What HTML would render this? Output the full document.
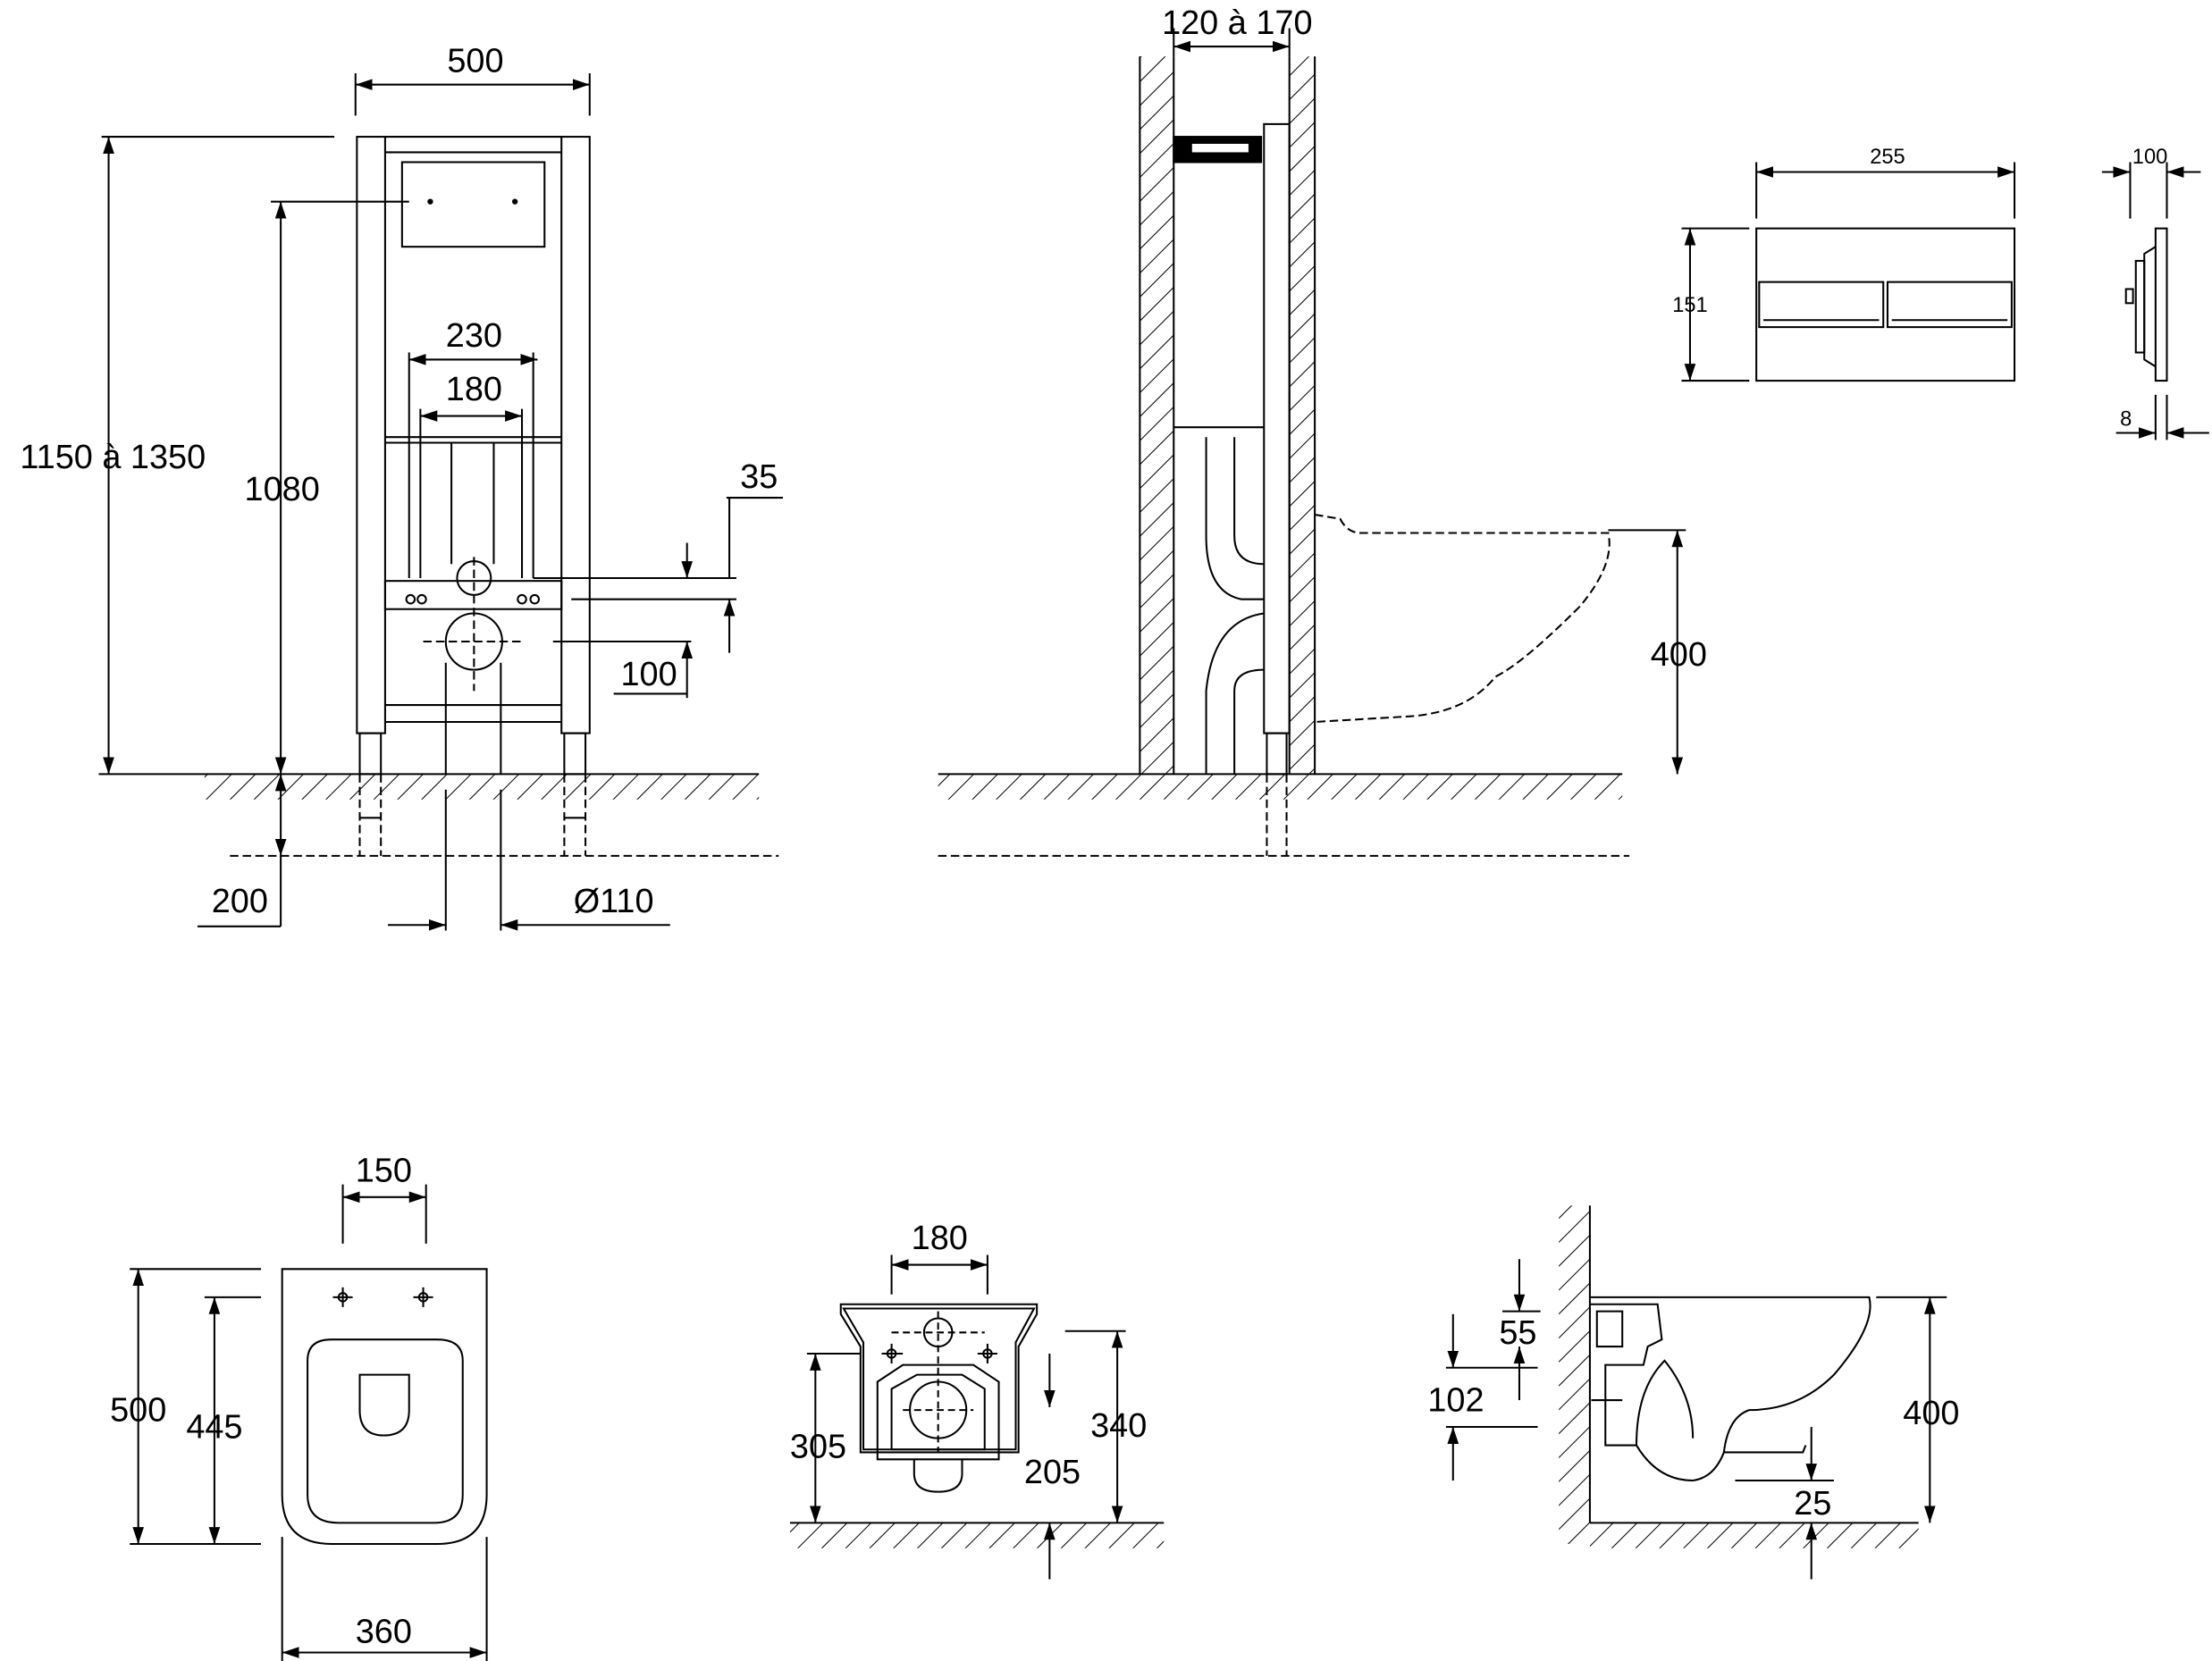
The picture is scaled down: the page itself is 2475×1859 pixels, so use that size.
<!DOCTYPE html>
<html><head><style>html,body{margin:0;padding:0;background:#fff}svg{display:block}</style></head><body>
<svg width="2475" height="1859" viewBox="0 0 1568 1178" preserveAspectRatio="none" xmlns="http://www.w3.org/2000/svg" font-family="Liberation Sans, Arial, sans-serif">
<defs>
<pattern id="h" width="12" height="12" patternUnits="userSpaceOnUse" patternTransform="rotate(45)">
<line x1="0" y1="0" x2="0" y2="12" stroke="#000" stroke-width="1.3"/></pattern>
<marker id="a" markerWidth="12" markerHeight="8" refX="12" refY="4" orient="auto-start-reverse" markerUnits="userSpaceOnUse"><path d="M0,0 L12,4 L0,8 z" fill="#000"/></marker>
</defs>
<g stroke="#000" stroke-width="1.3" fill="none">
<!-- TOP LEFT frame -->
<line x1="252" y1="52" x2="252" y2="82"/><line x1="418" y1="52" x2="418" y2="82"/>
<line x1="252" y1="60" x2="418" y2="60" marker-start="url(#a)" marker-end="url(#a)"/>
<rect x="253" y="97" width="20" height="423"/><rect x="398" y="97" width="20" height="423"/>
<line x1="273" y1="97" x2="398" y2="97"/><line x1="273" y1="108" x2="398" y2="108"/>
<rect x="285" y="115" width="101" height="60"/>
<line x1="273" y1="310" x2="398" y2="310"/><line x1="273" y1="314" x2="398" y2="314"/>
<rect x="273" y="412" width="125" height="20"/>
<line x1="273" y1="500" x2="398" y2="500"/><line x1="273" y1="512" x2="398" y2="512"/>
<line x1="290" y1="250" x2="290" y2="410"/><line x1="298" y1="290" x2="298" y2="410"/>
<line x1="370" y1="290" x2="370" y2="410"/><line x1="378" y1="250" x2="378" y2="410"/>
<line x1="320" y1="314" x2="320" y2="400"/><line x1="350" y1="314" x2="350" y2="400"/>
<circle cx="336" cy="410" r="12"/><circle cx="336" cy="455" r="20"/>
<line x1="316" y1="470" x2="316" y2="549"/><line x1="355" y1="470" x2="355" y2="549"/>
<line x1="300" y1="455" x2="372" y2="455" stroke-dasharray="6,3"/><line x1="336" y1="395" x2="336" y2="490" stroke-dasharray="6,3"/>
<circle cx="291" cy="425" r="3"/><circle cx="299" cy="425" r="3"/><circle cx="370" cy="425" r="3"/><circle cx="379" cy="425" r="3"/>
<rect x="255" y="520" width="15" height="29"/><rect x="400" y="520" width="15" height="29"/>
<g stroke-dasharray="6,3"><line x1="255" y1="549" x2="255" y2="607"/><line x1="270" y1="549" x2="270" y2="607"/><line x1="400" y1="549" x2="400" y2="607"/><line x1="415" y1="549" x2="415" y2="607"/>
<line x1="163" y1="607" x2="552" y2="607"/></g>
<line x1="316" y1="560" x2="316" y2="660"/><line x1="355" y1="560" x2="355" y2="660"/>
<line x1="255" y1="580" x2="270" y2="580"/><line x1="400" y1="580" x2="415" y2="580"/>
<line x1="290" y1="255" x2="381" y2="255" marker-start="url(#a)" marker-end="url(#a)"/>
<line x1="298" y1="295" x2="370" y2="295" marker-start="url(#a)" marker-end="url(#a)"/>
<line x1="72" y1="97" x2="237" y2="97"/><line x1="77" y1="97" x2="77" y2="549" marker-start="url(#a)" marker-end="url(#a)"/>
<line x1="192" y1="143" x2="290" y2="143"/><line x1="199" y1="143" x2="199" y2="549" marker-start="url(#a)" marker-end="url(#a)"/>
<line x1="70" y1="549" x2="538" y2="549"/><rect x="145" y="549" width="393" height="18" fill="url(#h)" stroke="none"/>
<line x1="199" y1="549" x2="199" y2="607" marker-start="url(#a)" marker-end="url(#a)"/><line x1="199" y1="607" x2="199" y2="657"/>
<line x1="140" y1="657" x2="199" y2="657"/>
<line x1="275" y1="656" x2="316" y2="656" marker-end="url(#a)"/><line x1="475" y1="656" x2="355" y2="656" marker-end="url(#a)"/>
<line x1="378" y1="410" x2="522" y2="410"/><line x1="405" y1="425" x2="522" y2="425"/>
<line x1="515" y1="353" x2="555" y2="353"/>
<line x1="517" y1="353" x2="517" y2="410"/>
<line x1="487" y1="385" x2="487" y2="410" marker-end="url(#a)"/><line x1="517" y1="463" x2="517" y2="425" marker-end="url(#a)"/>
<line x1="392" y1="455" x2="490" y2="455"/><line x1="487" y1="495" x2="487" y2="455" marker-end="url(#a)"/>
<line x1="435" y1="492" x2="487" y2="492"/>
<!-- TOP MIDDLE -->
<rect x="808" y="40" width="24" height="509" fill="url(#h)" stroke="none"/><line x1="832" y1="40" x2="832" y2="549"/><line x1="808" y1="40" x2="808" y2="549"/>
<rect x="914" y="40" width="18" height="509" fill="url(#h)" stroke="none"/><line x1="914" y1="40" x2="914" y2="549"/><line x1="932" y1="40" x2="932" y2="549"/>
<line x1="832" y1="20" x2="832" y2="40"/><line x1="914" y1="20" x2="914" y2="40"/>
<line x1="832" y1="33" x2="914" y2="33" marker-start="url(#a)" marker-end="url(#a)"/>
<rect x="896" y="88" width="18" height="432"/>
<rect x="832" y="97" width="62" height="18" fill="#000"/><rect x="845" y="102" width="40" height="6" fill="#fff" stroke="none"/>
<line x1="832" y1="303" x2="896" y2="303"/>
<path d="M855,310 L855,380 Q855,420 880,425 L896,425 M875,310 L875,380 Q875,400 896,400"/>
<path d="M855,549 L855,490 Q860,440 896,435 M875,549 L875,490 Q875,475 896,475"/>
<rect x="898" y="520" width="14" height="29"/>
<g stroke-dasharray="6,3"><line x1="898" y1="549" x2="898" y2="607"/><line x1="912" y1="549" x2="912" y2="607"/><line x1="665" y1="607" x2="1155" y2="607"/>
<path d="M932,365 L950,368 Q955,378 965,378 L1140,378 Q1145,400 1120,430 Q1080,470 1060,480 Q1040,505 1000,508 L932,512"/></g>
<line x1="665" y1="549" x2="1150" y2="549"/><rect x="665" y="549" width="485" height="18" fill="url(#h)" stroke="none"/>
<line x1="1140" y1="376" x2="1195" y2="376"/><line x1="1189" y1="376" x2="1189" y2="549" marker-start="url(#a)" marker-end="url(#a)"/>
<!-- TOP RIGHT -->
<rect x="1245" y="162" width="183" height="108"/>
<rect x="1247" y="200" width="88" height="32"/><rect x="1338" y="200" width="88" height="32"/>
<line x1="1250" y1="227" x2="1332" y2="227"/><line x1="1341" y1="227" x2="1423" y2="227"/>
<line x1="1245" y1="115" x2="1245" y2="155"/><line x1="1428" y1="115" x2="1428" y2="155"/>
<line x1="1245" y1="122" x2="1428" y2="122" marker-start="url(#a)" marker-end="url(#a)"/>
<line x1="1192" y1="162" x2="1240" y2="162"/><line x1="1192" y1="270" x2="1240" y2="270"/>
<line x1="1198" y1="162" x2="1198" y2="270" marker-start="url(#a)" marker-end="url(#a)"/>
<rect x="1528" y="162" width="8" height="108"/>
<path d="M1528,175 L1520,180 L1520,255 L1528,260"/><rect x="1514" y="185" width="6" height="65"/><rect x="1507" y="205" width="5" height="10"/>
<line x1="1510" y1="115" x2="1510" y2="155"/><line x1="1536" y1="115" x2="1536" y2="155"/>
<line x1="1490" y1="122" x2="1510" y2="122" marker-end="url(#a)"/><line x1="1560" y1="122" x2="1536" y2="122" marker-end="url(#a)"/>
<line x1="1528" y1="280" x2="1528" y2="312"/><line x1="1536" y1="280" x2="1536" y2="312"/>
<line x1="1500" y1="307" x2="1528" y2="307" marker-end="url(#a)"/><line x1="1566" y1="307" x2="1536" y2="307" marker-end="url(#a)"/>
<!-- BOTTOM LEFT -->
<path d="M200,900 L345,900 L345,1060 Q345,1095 310,1095 L235,1095 Q200,1095 200,1060 Z"/>
<path d="M218,965 Q218,950 235,950 L310,950 Q328,950 328,965 L328,1060 Q328,1080 308,1080 L240,1080 Q218,1080 218,1060 Z"/>
<path d="M255,975 L290,975 L290,1000 Q290,1018 272,1018 Q255,1018 255,1000 Z"/>
<circle cx="243" cy="920" r="3"/><circle cx="300" cy="920" r="3"/>
<line x1="236" y1="920" x2="250" y2="920"/><line x1="243" y1="913" x2="243" y2="927"/><line x1="293" y1="920" x2="307" y2="920"/><line x1="300" y1="913" x2="300" y2="927"/>
<line x1="243" y1="840" x2="243" y2="882"/><line x1="302" y1="840" x2="302" y2="882"/>
<line x1="243" y1="849" x2="302" y2="849" marker-start="url(#a)" marker-end="url(#a)"/>
<line x1="92" y1="900" x2="185" y2="900"/><line x1="92" y1="1095" x2="185" y2="1095"/><line x1="145" y1="920" x2="185" y2="920"/>
<line x1="98" y1="900" x2="98" y2="1095" marker-start="url(#a)" marker-end="url(#a)"/>
<line x1="152" y1="920" x2="152" y2="1095" marker-start="url(#a)" marker-end="url(#a)"/>
<line x1="200" y1="1090" x2="200" y2="1178"/><line x1="345" y1="1090" x2="345" y2="1178"/>
<line x1="200" y1="1172" x2="345" y2="1172" marker-start="url(#a)" marker-end="url(#a)"/>
<!-- BOTTOM MIDDLE -->
<path d="M596,925 L735,925 L735,932 L722,955 L722,1030 L610,1030 L610,955 L596,932 Z"/>
<path d="M598,928 L733,928 L720,952 L720,1028 L612,1028 L612,952 Z"/>
<path d="M622,980 L640,968 L690,968 L708,980 L708,1035 L622,1035 Z"/>
<path d="M632,985 L650,975 L682,975 L698,985 L698,1028 L632,1028 Z"/>
<path d="M648,1035 L648,1045 Q648,1058 665,1058 Q682,1058 682,1045 L682,1035"/>
<circle cx="665" cy="945" r="10"/><circle cx="665" cy="1000" r="20"/>
<g stroke-dasharray="5,3"><line x1="640" y1="1000" x2="690" y2="1000"/><line x1="665" y1="930" x2="665" y2="1030"/><line x1="632" y1="945" x2="698" y2="945"/></g>
<circle cx="632" cy="960" r="3"/><circle cx="700" cy="960" r="3"/>
<line x1="625" y1="960" x2="640" y2="960"/><line x1="632" y1="953" x2="632" y2="967"/><line x1="693" y1="960" x2="707" y2="960"/><line x1="700" y1="953" x2="700" y2="967"/>
<line x1="632" y1="890" x2="632" y2="918"/><line x1="700" y1="890" x2="700" y2="918"/>
<line x1="632" y1="897" x2="700" y2="897" marker-start="url(#a)" marker-end="url(#a)"/>
<line x1="560" y1="1080" x2="825" y2="1080"/><rect x="560" y="1080" width="265" height="18" fill="url(#h)" stroke="none"/>
<line x1="572" y1="960" x2="610" y2="960"/><line x1="578" y1="960" x2="578" y2="1080" marker-start="url(#a)" marker-end="url(#a)"/>
<line x1="755" y1="944" x2="798" y2="944"/><line x1="792" y1="944" x2="792" y2="1080" marker-start="url(#a)" marker-end="url(#a)"/>
<line x1="744" y1="960" x2="744" y2="998" marker-end="url(#a)"/>
<line x1="744" y1="1120" x2="744" y2="1080" marker-end="url(#a)"/>
<!-- BOTTOM RIGHT -->
<rect x="1105" y="855" width="22" height="240" fill="url(#h)" stroke="none"/><line x1="1127" y1="855" x2="1127" y2="1080"/>
<line x1="1127" y1="1080" x2="1360" y2="1080"/><rect x="1127" y="1080" width="233" height="18" fill="url(#h)" stroke="none"/>
<path d="M1127,920 L1325,920 Q1330,940 1300,975 Q1275,1000 1240,1000 Q1225,1005 1222,1030 L1278,1030 L1280,1025"/>
<path d="M1127,925 L1175,925 L1178,950 L1168,955 L1165,968 L1138,968 L1138,1025 L1160,1025 Q1175,1050 1200,1050 Q1215,1048 1222,1030"/>
<path d="M1160,1025 Q1160,985 1180,965 Q1200,990 1200,1020"/>
<path d="M1132,930 L1150,930 L1150,955 L1132,955 Z"/>
<line x1="1128" y1="993" x2="1150" y2="993"/>
<line x1="1330" y1="920" x2="1380" y2="920"/><line x1="1368" y1="920" x2="1368" y2="1080" marker-start="url(#a)" marker-end="url(#a)"/>
<line x1="1025" y1="970" x2="1090" y2="970"/><line x1="1025" y1="1012" x2="1090" y2="1012"/>
<line x1="1030" y1="932" x2="1030" y2="970" marker-end="url(#a)"/><line x1="1030" y1="1050" x2="1030" y2="1012" marker-end="url(#a)"/>
<line x1="1065" y1="930" x2="1092" y2="930"/>
<line x1="1077" y1="893" x2="1077" y2="930" marker-end="url(#a)"/><line x1="1077" y1="993" x2="1077" y2="955" marker-end="url(#a)"/>
<line x1="1230" y1="1050" x2="1300" y2="1050"/>
<line x1="1284" y1="1012" x2="1284" y2="1050" marker-end="url(#a)"/><line x1="1284" y1="1120" x2="1284" y2="1080" marker-end="url(#a)"/>
</g>
<g fill="#000">
<circle cx="305" cy="143" r="2"/><circle cx="365" cy="143" r="2"/>
</g>
<g fill="#000" font-size="24" text-anchor="middle">
<text x="337" y="51">500</text>
<text x="336" y="246">230</text>
<text x="336" y="284">180</text>
<text x="80" y="332">1150 à 1350</text>
<text x="200" y="355">1080</text>
<text x="538" y="346">35</text>
<text x="460" y="486">100</text>
<text x="170" y="647">200</text>
<text x="435" y="647">Ø110</text>
<text x="877" y="24">120 à 170</text>
<text x="1190" y="472">400</text>
<text x="272" y="838">150</text>
<text x="98" y="1008">500</text>
<text x="152" y="1020">445</text>
<text x="272" y="1165">360</text>
<text x="666" y="886">180</text>
<text x="580" y="1034">305</text>
<text x="793" y="1019">340</text>
<text x="746" y="1052">205</text>
<text x="1076" y="953">55</text>
<text x="1032" y="1001">102</text>
<text x="1369" y="1010">400</text>
<text x="1285" y="1074">25</text>
</g>
<g fill="#000" font-size="15" text-anchor="middle">
<text x="1338" y="116">255</text>
<text x="1198" y="221">151</text>
<text x="1524" y="116">100</text>
<text x="1507" y="302">8</text>
</g>
</svg>
</body></html>
